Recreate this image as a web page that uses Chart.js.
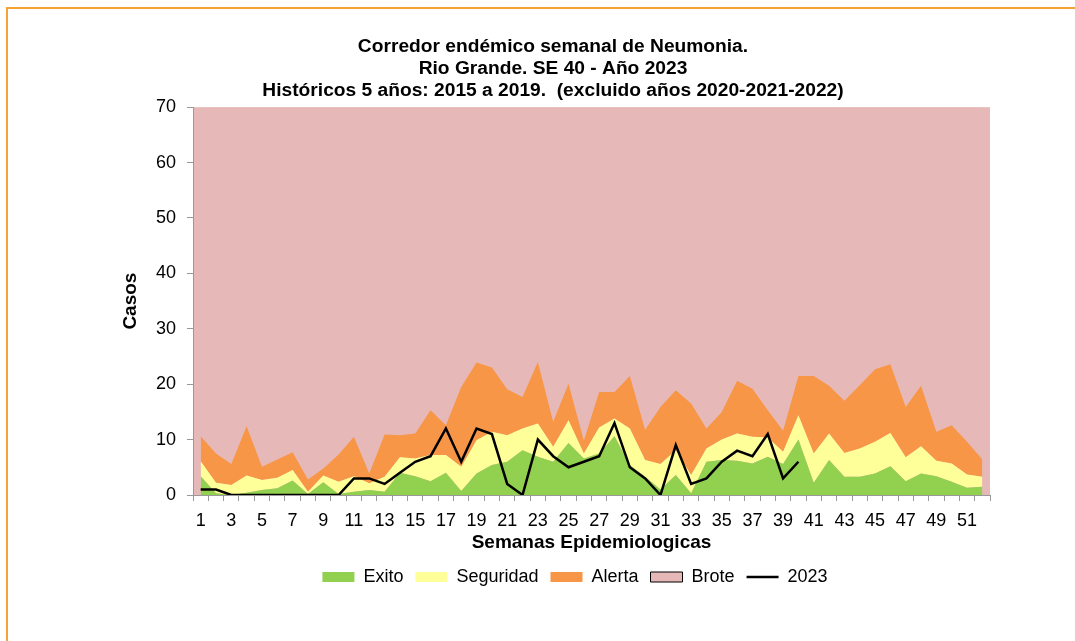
<!DOCTYPE html>
<html><head><meta charset="utf-8">
<script src="https://cdn.jsdelivr.net/npm/chart.js@4.4.1/dist/chart.umd.min.js"></script>
<style>
html,body{margin:0;padding:0;background:#fff;}
#wrap{position:relative;width:1075px;height:641px;overflow:hidden;background:#fff;}
#c{position:absolute;left:0;top:0;}
.bt{position:absolute;left:6px;top:7px;width:1069px;height:2px;background:#F7A234;}
.bl{position:absolute;left:6px;top:7px;width:2px;height:634px;background:#F7A234;}
</style></head>
<body><div id="wrap"><canvas id="c" width="1075" height="641"></canvas><div class="bt"></div><div class="bl"></div></div>
<script>
const weeks = ['1','2','3','4','5','6','7','8','9','10','11','12','13','14','15','16','17','18','19','20','21','22','23','24','25','26','27','28','29','30','31','32','33','34','35','36','37','38','39','40','41','42','43','44','45','46','47','48','49','50','51','52'];
// upper limit of each zone (cumulative)
const exito = [3.4,0.3,0,0.4,0.9,1.2,2.6,0.2,2.3,0.2,0.6,0.9,0.6,4.0,3.4,2.5,4.0,0.7,3.9,5.4,6.0,8.1,6.9,6.0,9.4,6.6,7.5,10.6,5.4,3.3,1.0,3.6,0.3,6.0,6.3,6.2,5.7,6.9,5.6,10.0,2.2,6.3,3.3,3.3,3.9,5.2,2.5,3.9,3.4,2.4,1.3,1.5];
const seguridad = [6.1,2.2,1.8,3.5,2.7,3.1,4.5,0.6,3.5,2.4,3.4,2.1,3.3,6.8,6.6,7.2,7.2,5.1,9.9,11.4,10.8,12.0,12.9,8.7,13.5,7.5,12.2,13.8,12.0,6.3,5.6,8.1,3.6,8.4,10.0,11.1,10.5,10.4,7.8,14.4,7.5,11.1,7.6,8.4,9.6,11.2,6.8,8.8,6.2,5.7,3.7,3.3];
const alerta = [10.6,7.5,5.6,12.4,5.1,6.4,7.7,2.8,4.8,7.3,10.5,3.9,10.9,10.8,11.1,15.3,12.6,19.5,23.9,23.0,19.1,17.7,24.0,13.2,20.1,9.8,18.6,18.6,21.5,11.8,15.9,18.9,16.5,12.0,15.0,20.6,19.2,15.3,11.6,21.5,21.5,19.7,17.0,19.8,22.7,23.6,15.9,19.7,11.4,12.6,9.6,6.4];
const brote = [70,70,70,70,70,70,70,70,70,70,70,70,70,70,70,70,70,70,70,70,70,70,70,70,70,70,70,70,70,70,70,70,70,70,70,70,70,70,70,70,70,70,70,70,70,70,70,70,70,70,70,70];
const casos2023 = [1,1,0,0,0,0,0,0,0,0,3,3,2,4,6,7,12,6,12,11,2,0,10,7,5,6,7,13,5,3,0,9,2,3,6,8,7,11,3,6,null,null,null,null,null,null,null,null,null,null,null,null];
const titleLines = ['Corredor endémico semanal de Neumonia.','Rio Grande. SE 40 - Año 2023','Históricos 5 años: 2015 a 2019.  (excluido años 2020-2021-2022)'];

Chart.defaults.font.family = "'Liberation Sans', Arial, sans-serif";
Chart.defaults.font.size = 18;
Chart.defaults.color = '#000';

const plotBg = {
  id: 'plotBg',
  beforeDraw(chart) {
    const a = chart.chartArea, c = chart.ctx;
    c.save(); c.fillStyle = '#E6B9B8'; c.fillRect(a.left, a.top, a.right - a.left, a.bottom - a.top); c.restore();
  }
};
const legendShift = {
  id: 'legendShift',
  afterLayout(chart) { chart.legend.left += 22; chart.legend.right += 22; }
};
const area = (label, data, fill, color) => ({label, data, fill, backgroundColor: color, borderColor: color, borderWidth: 0, pointRadius: 0, tension: 0});

new Chart(document.getElementById('c'), {
  type: 'line',
  data: {
    labels: weeks,
    datasets: [
      area('Exito', exito, 'origin', '#92D050'),
      area('Seguridad', seguridad, '-1', '#FFFF99'),
      area('Alerta', alerta, '-1', '#F79646'),
      area('Brote', brote, '-1', '#E6B9B8'),
      {label: '2023', data: casos2023, fill: false, borderColor: '#000', backgroundColor: '#000', borderWidth: 2.5, pointRadius: 0, tension: 0}
    ]
  },
  options: {
    responsive: false, animation: false,
    layout: {padding: {top: 30, left: 116, right: 85, bottom: 45}},
    plugins: {
      filler: {drawTime: 'beforeDatasetsDraw'},
      tooltip: {enabled: false},
      title: {display: true, text: titleLines, font: {size: 19.2, weight: 'bold', lineHeight: 1.17}, color: '#000', padding: {top: 5, bottom: 4.8}},
      legend: {
        position: 'bottom',
        labels: {
          usePointStyle: true, pointStyleWidth: 32, boxHeight: 10, padding: 12, font: {size: 18}, color: '#000',
          generateLabels(chart) {
            const items = Chart.defaults.plugins.legend.labels.generateLabels(chart);
            items.forEach(it => {
              const ds = chart.data.datasets[it.datasetIndex];
              if (ds.fill === false) { it.pointStyle = 'line'; it.strokeStyle = '#000'; it.lineWidth = 2.5; }
              else { it.pointStyle = 'rect'; it.fillStyle = ds.backgroundColor; it.strokeStyle = ds.label === 'Brote' ? '#000' : ds.backgroundColor; it.lineWidth = ds.label === 'Brote' ? 1 : 0; }
            });
            return items;
          }
        }
      }
    },
    scales: {
      x: {
        offset: true,
        grid: {offset: true, drawOnChartArea: false, drawTicks: true, tickLength: 6, color: '#999'},
        border: {color: '#999'},
        ticks: {autoSkip: false, maxRotation: 0, font: {size: 18}, color: '#000', padding: 9, callback: (v, i) => i % 2 === 0 ? weeks[i] : ''},
        title: {display: true, text: 'Semanas Epidemiologicas', font: {size: 19, weight: 'bold'}, color: '#000', padding: {top: 0, bottom: 2}},
        afterFit: s => { s.height = 61; }
      },
      y: {
        min: 0, max: 70,
        ticks: {stepSize: 10, font: {size: 18}, color: '#000', padding: 11},
        grid: {drawOnChartArea: false, tickLength: 6, color: '#999'},
        border: {color: '#999'},
        title: {display: true, text: 'Casos', font: {size: 19, weight: 'bold'}, color: '#000', padding: {top: 3, bottom: 0}},
        afterFit: s => { s.width = 77; }
      }
    }
  },
  plugins: [plotBg, legendShift]
});
</script>
</body></html>
